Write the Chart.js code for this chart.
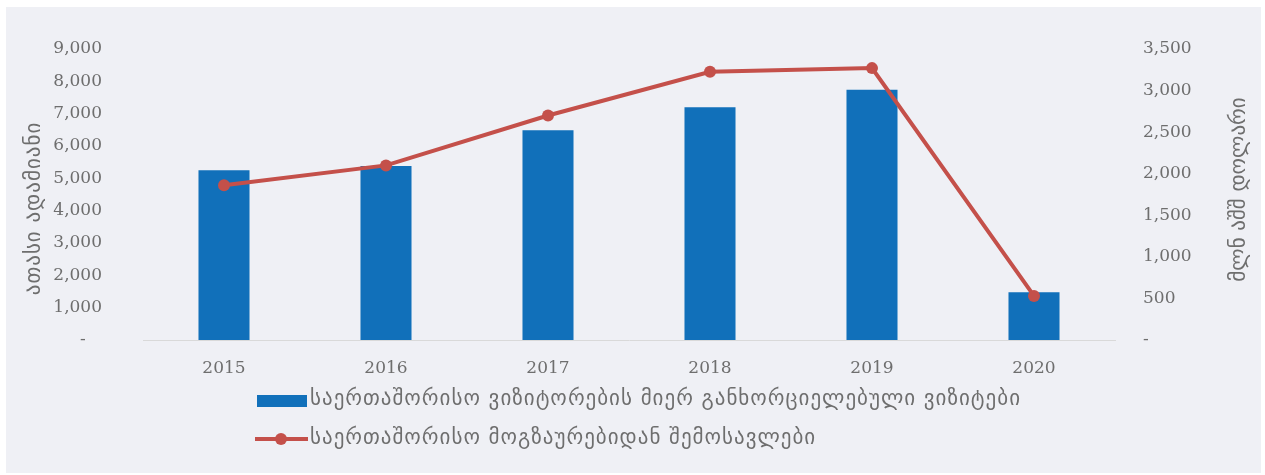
<!DOCTYPE html>
<html>
<head>
<meta charset="utf-8">
<script src="https://cdn.jsdelivr.net/npm/chart.js@4"></script>
<style>
  html, body { margin: 0; padding: 0; background: #ffffff; }
  #wrap { position: absolute; left: 6px; top: 7px; width: 1255px; height: 466px; background: #eff0f5; }
</style>
</head>
<body>
<div id="wrap"><canvas id="chart"></canvas></div>
<script>
const years = ['2015', '2016', '2017', '2018', '2019', '2020'];
const visits = [5250, 5380, 6490, 7200, 7740, 1480];   // thousand people
const revenue = [1860, 2100, 2700, 3225, 3270, 530];   // mln USD
const visitsLabel = 'საერთაშორისო ვიზიტორების მიერ განხორციელებული ვიზიტები';
const revenueLabel = 'საერთაშორისო მოგზაურებიდან შემოსავლები';
const leftTitle = 'ათასი ადამიანი';
const rightTitle = 'მლნ აშშ დოლარი';

const barColor = '#1170ba';
const lineColor = '#c4504a';
const textGrey = '#6e6e6e';
const tickFont = { family: 'DejaVu Serif', size: 17 };
const geoFont = '21px "DejaVu Sans"';

function fmt(v) {
    if (v === 0) return '-';
    return v.toLocaleString('en-US');
}

// axis titles (both read bottom-to-top) and the stacked legend
const extras = {
    id: 'extras',
    afterDraw(chart) {
        const ctx = chart.ctx;
        const area = chart.chartArea;
        const yL = chart.scales.y;
        const yR = chart.scales.y1;
        const midY = (area.top + area.bottom) / 2;

        ctx.save();
        ctx.font = geoFont;
        ctx.letterSpacing = '1px';
        ctx.fillStyle = textGrey;
        ctx.textAlign = 'center';
        ctx.textBaseline = 'middle';
        ctx.translate(yL.left + 29, midY + 14);
        ctx.rotate(-Math.PI / 2);
        ctx.fillText(leftTitle, 0, 0);
        ctx.restore();

        ctx.save();
        ctx.font = geoFont;
        ctx.fillStyle = textGrey;
        ctx.textAlign = 'center';
        ctx.textBaseline = 'middle';
        ctx.translate(yR.right - 21, midY - 5);
        ctx.rotate(-Math.PI / 2);
        ctx.fillText(rightTitle, 0, 0);
        ctx.restore();

        const bars = chart.data.datasets.find(d => d.type === 'bar');
        const line = chart.data.datasets.find(d => d.type === 'line');
        const lx = 251;
        ctx.save();
        ctx.font = geoFont;
        ctx.letterSpacing = '1px';
        ctx.textAlign = 'left';
        ctx.textBaseline = 'middle';

        ctx.fillStyle = bars.backgroundColor;
        ctx.fillRect(lx, 388, 50, 12);
        ctx.fillStyle = textGrey;
        ctx.fillText(bars.label, lx + 53, 393);

        ctx.strokeStyle = line.borderColor;
        ctx.lineWidth = 4;
        ctx.beginPath();
        ctx.moveTo(lx - 2, 432);
        ctx.lineTo(lx + 51, 432);
        ctx.stroke();
        ctx.fillStyle = line.borderColor;
        ctx.beginPath();
        ctx.arc(lx + 24, 432, 6, 0, Math.PI * 2);
        ctx.fill();
        ctx.fillStyle = textGrey;
        ctx.fillText(line.label, lx + 53, 432);
        ctx.restore();
    }
};

// fixed axis sizes; drop the tick padding from the vertical overflow
function fixY(width) {
    return s => {
        s.width = width;
        s.paddingTop = 0;
        s.paddingBottom = 0;
    };
}

new Chart(document.getElementById('chart'), {
    data: {
        labels: years,
        datasets: [{
            type: 'line',
            label: revenueLabel,
            data: revenue,
            yAxisID: 'y1',
            borderColor: lineColor,
            backgroundColor: lineColor,
            borderWidth: 4,
            pointRadius: 6,
            pointBackgroundColor: lineColor,
            pointBorderWidth: 0,
            tension: 0,
            order: 1
        }, {
            type: 'bar',
            label: visitsLabel,
            data: visits,
            yAxisID: 'y',
            backgroundColor: barColor,
            categoryPercentage: 1,
            barPercentage: 0.315,
            order: 2
        }]
    },
    options: {
        responsive: true,
        maintainAspectRatio: false,
        animation: false,
        layout: { padding: { top: 42, left: 0, right: 0, bottom: 0 } },
        plugins: {
            legend: { display: false },
            tooltip: { enabled: false }
        },
        scales: {
            x: {
                grid: { display: false },
                border: { display: true, color: '#d9d9d9', width: 1 },
                ticks: { color: textGrey, font: tickFont, padding: 10 },
                afterFit: s => { s.height = 133; }
            },
            y: {
                position: 'left',
                min: 0,
                max: 9000,
                grid: { display: false, drawTicks: false },
                border: { display: false },
                ticks: { stepSize: 1000, color: textGrey, font: tickFont, padding: 41, callback: v => v === 0 ? '-   ' : fmt(v) },
                afterFit: fixY(137)
            },
            y1: {
                position: 'right',
                min: 0,
                max: 3500,
                grid: { display: false, drawTicks: false },
                border: { display: false },
                ticks: { stepSize: 500, color: textGrey, font: tickFont, padding: 28, callback: fmt },
                afterFit: fixY(146)
            }
        }
    },
    plugins: [extras]
});
</script>
</body>
</html>
